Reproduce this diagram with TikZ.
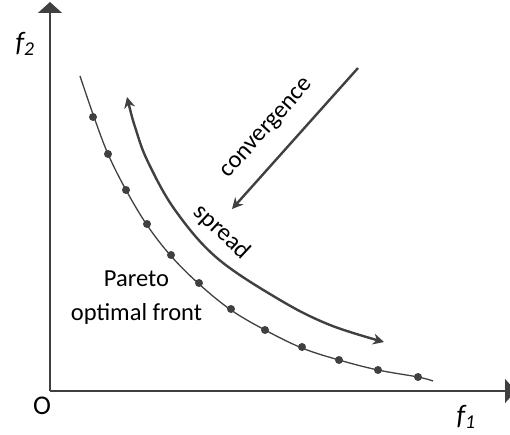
\documentclass[tikz,border=0pt]{standalone}
\usepackage{fontspec}
\setmainfont{Carlito}
\usetikzlibrary{arrows.meta}
\definecolor{ink}{HTML}{404040}
\begin{document}
\begin{tikzpicture}[x=1pt,y=-1pt,
  axis/.style={draw=ink,line width=1.4pt},
  front/.style={draw=ink,line width=1.3pt},
  bigarrow/.style={draw=ink,line width=2.4pt},
  pt/.style={circle,fill=ink,inner sep=0pt,minimum size=8pt},
  lbl/.style={text=black,inner sep=0pt,font=\fontsize{24.5}{34}\selectfont}]
\useasboundingbox (0,0) rectangle (510,435);
\begin{scope}
\clip (0,0) rectangle (510,435);
\coordinate (O) at (50,391);
\coordinate (ytop) at (50,2);
\coordinate (xend) at (516,391);
\draw[axis,-{Triangle[width=24pt,length=11pt]}] (O) -- (ytop);
\draw[axis,-{Triangle[width=24pt,length=11pt]}] (O) -- (xend);
\end{scope}
\node[font=\fontsize{28}{30}\selectfont\itshape,text=black,inner sep=0pt] (f2) at (25,44) {f\textsubscript{\normalfont\itshape 2}};
\node[font=\fontsize{27}{30}\selectfont,text=black,inner sep=0pt] (o) at (42,406) {O};
\node[font=\fontsize{28}{30}\selectfont\itshape,text=black,inner sep=0pt] (f1) at (466,417) {f\textsubscript{\normalfont\itshape 1}};
% Pareto front
\draw[front] plot[smooth,tension=0.6] coordinates {(80,76) (94,117) (108,154) (126,190) (147,225) (171,256) (199,284) (231,310) (265,330) (302,348) (339,360) (378,370) (418,377) (433,381)};
\foreach \p/\n in {(93,117)/d1,(108,154)/d2,(126,190)/d3,(147,224)/d4,(171,255)/d5,(199,283)/d6,(231,309)/d7,(265,330)/d8,(302,347)/d9,(339,360)/d10,(378,370)/d11,(418,377)/d12}
  \node[pt] (\n) at \p {};
% spread arrow
\draw[bigarrow,{Stealth[length=11pt,width=11pt]}-{Stealth[length=11pt,width=11pt]}] plot[smooth,tension=0.6] coordinates {(127,97) (136,130) (148,162) (175,210) (217,258) (280,300) (330,325) (384,342)};
% convergence arrow
\coordinate (cs) at (358,68);
\coordinate (ce) at (232,209);
\draw[bigarrow,-{Stealth[length=11pt,width=11pt]}] (cs) -- (ce);
\node[lbl,rotate=48] (conv) at (268,129) {convergence};
\node[lbl,rotate=-43] (spread) at (222,232) {spread};
\node[lbl,align=center,anchor=north] (pareto) at (136.5,271) {Pareto\\optimal front};
\end{tikzpicture}
\end{document}
